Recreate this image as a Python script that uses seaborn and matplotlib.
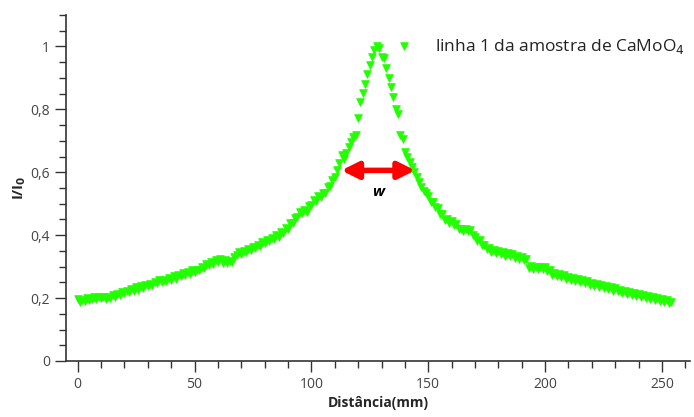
import numpy as np
import pandas as pd
import matplotlib
matplotlib.use("Agg")
import matplotlib.pyplot as plt
from matplotlib.ticker import MultipleLocator, FuncFormatter
import seaborn as sns

# Line profile of the CaMoO4 sample (1 mm steps)
distancia = list(range(0, 255))
intensidade = [
    0.196, 0.188, 0.194, 0.190, 0.199, 0.193, 0.197, 0.202, 0.196, 0.203,
    0.199, 0.205, 0.197, 0.202, 0.201, 0.209, 0.204, 0.214, 0.210, 0.219,
    0.215, 0.223, 0.220, 0.228, 0.224, 0.234, 0.227, 0.238, 0.233, 0.243,
    0.239, 0.246, 0.241, 0.252, 0.247, 0.258, 0.251, 0.257, 0.255, 0.264,
    0.258, 0.269, 0.262, 0.273, 0.270, 0.280, 0.274, 0.282, 0.278, 0.288,
    0.283, 0.290, 0.288, 0.299, 0.296, 0.309, 0.304, 0.315, 0.309, 0.320,
    0.314, 0.323, 0.313, 0.320, 0.310, 0.317, 0.314, 0.332, 0.337, 0.346,
    0.341, 0.351, 0.346, 0.357, 0.352, 0.363, 0.358, 0.370, 0.367, 0.378,
    0.374, 0.386, 0.381, 0.392, 0.387, 0.399, 0.395, 0.409, 0.406, 0.422,
    0.421, 0.438, 0.440, 0.456, 0.459, 0.474, 0.470, 0.481, 0.475, 0.492,
    0.496, 0.511, 0.510, 0.524, 0.522, 0.535, 0.533, 0.552, 0.556, 0.576,
    0.584, 0.606, 0.630, 0.655, 0.642, 0.660, 0.679, 0.695, 0.712, 0.720,
    0.774, 0.822, 0.851, 0.882, 0.914, 0.940, 0.965, 0.990, 1.000, 0.995,
    0.968, 0.962, 0.930, 0.900, 0.870, 0.840, 0.800, 0.785, 0.717, 0.706,
    0.663, 0.650, 0.632, 0.616, 0.600, 0.584, 0.568, 0.552, 0.541, 0.533,
    0.525, 0.506, 0.506, 0.490, 0.488, 0.467, 0.466, 0.449, 0.452, 0.440,
    0.445, 0.433, 0.434, 0.419, 0.420, 0.414, 0.421, 0.412, 0.418, 0.401,
    0.395, 0.382, 0.386, 0.369, 0.369, 0.356, 0.360, 0.348, 0.354, 0.344,
    0.349, 0.339, 0.345, 0.335, 0.342, 0.333, 0.339, 0.329, 0.335, 0.325,
    0.331, 0.321, 0.324, 0.296, 0.302, 0.293, 0.300, 0.292, 0.299, 0.291,
    0.299, 0.286, 0.289, 0.275, 0.281, 0.271, 0.277, 0.266, 0.272, 0.261,
    0.267, 0.257, 0.264, 0.254, 0.261, 0.251, 0.257, 0.247, 0.253, 0.243,
    0.249, 0.239, 0.245, 0.235, 0.241, 0.231, 0.237, 0.228, 0.234, 0.224,
    0.231, 0.221, 0.227, 0.217, 0.223, 0.213, 0.219, 0.209, 0.216, 0.206,
    0.212, 0.203, 0.209, 0.200, 0.206, 0.196, 0.203, 0.193, 0.200, 0.190,
    0.197, 0.187, 0.194, 0.184, 0.189,
]

# width marker (w) at half height
w_inicio = 112.8
w_fim = 144.4
w_altura = 0.606

perfil = pd.DataFrame({"Distância(mm)": distancia, "I/I0": intensidade})

sns.set_style("ticks")
plt.rcParams["font.family"] = ["Open Sans", "DejaVu Sans"]

fig = plt.figure(figsize=(6.94, 4.17), dpi=100)
ax = fig.add_axes([66 / 694, 56 / 417, 624 / 694, 346 / 417])

sns.scatterplot(data=perfil, x="Distância(mm)", y="I/I0", ax=ax,
                marker="v", s=30, color="#22ff00", edgecolor="#22ff00",
                linewidth=0.6, label="linha 1 da amostra de CaMoO$_4$")

# red double arrow
ax.annotate("", xy=(w_inicio, w_altura), xytext=(w_fim, w_altura),
            arrowprops=dict(arrowstyle="<|-|>", color="red", lw=4,
                            mutation_scale=25, shrinkA=0, shrinkB=0))
ax.text((w_inicio + w_fim) / 2, 0.537, "w", ha="center", va="center",
        fontsize=11, fontweight="bold", fontstyle="italic", color="black")

ax.set_xlim(-5, 262)
ax.set_ylim(0, 1.1)
ax.xaxis.set_major_locator(MultipleLocator(50))
ax.xaxis.set_minor_locator(MultipleLocator(10))
ax.yaxis.set_major_locator(MultipleLocator(0.2))
ax.yaxis.set_minor_locator(MultipleLocator(0.05))
ax.yaxis.set_major_formatter(FuncFormatter(lambda v, p: f"{v:g}".replace(".", ",")))

ax.tick_params(which="major", length=8, width=1, color="#333333",
               labelsize=10, labelcolor="#444444", direction="out")
ax.tick_params(which="minor", length=5, width=1, color="#333333", direction="out")

sns.despine(ax=ax)
for side in ["left", "bottom"]:
    ax.spines[side].set_color("#333333")
    ax.spines[side].set_linewidth(1.2)

ax.set_xlabel("Distância(mm)", fontsize=10, fontweight="bold", labelpad=3)
ax.set_ylabel("I/I$_\\mathbf{0}$", fontsize=10.5, fontweight="bold", labelpad=2)

leg = ax.legend(loc="upper left", bbox_to_anchor=(371 / 694, (417 - 21) / 417),
                bbox_transform=fig.transFigure, frameon=False, fontsize=12.5,
                handlelength=2.0, handletextpad=0.8, borderpad=0.4)
for t in leg.get_texts():
    t.set_color("#222222")

fig.savefig("out.png", dpi=100)
